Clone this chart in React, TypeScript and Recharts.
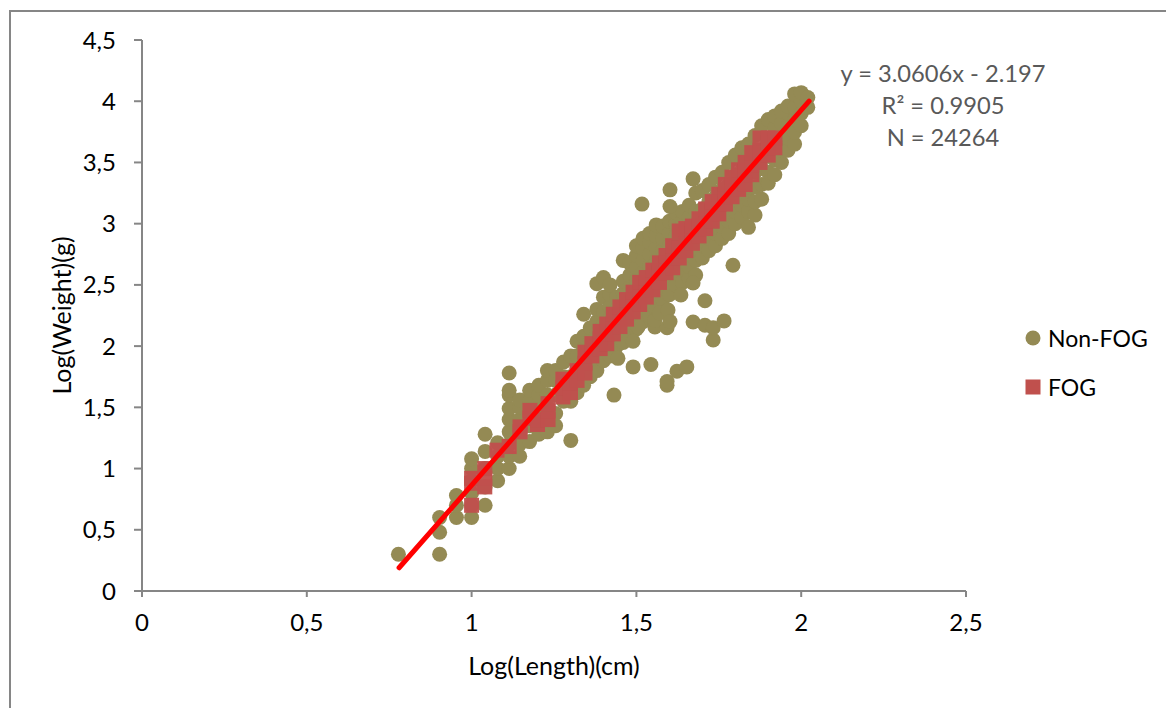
import React from "react";
import { ScatterChart, Scatter, XAxis, YAxis, Legend } from "recharts";

type Row = [number, number[]];

const xTicks = [0, 0.5, 1, 1.5, 2, 2.5];
const yTicks = [0, 0.5, 1, 1.5, 2, 2.5, 3, 3.5, 4, 4.5];
const annotation = ["y = 3.0606x - 2.197", "R² = 0.9905", "N = 24264"];

const nonFogLowRows: Row[] = [
  [0.778, [0.3]],
  [0.903, [0.3, 0.48, 0.6]],
  [0.954, [0.6, 0.7, 0.78]],
  [1.0, [0.6, 0.7, 0.8, 0.9, 1.0, 1.08]],
  [1.041, [0.7, 0.85, 1.0, 1.14, 1.28]],
  [1.079, [0.9, 1.0, 1.1, 1.21]],
  [1.114, [1.0, 1.1, 1.2, 1.3, 1.4, 1.49, 1.6, 1.64, 1.78]],
  [1.146, [1.1, 1.2, 1.3, 1.4, 1.5, 1.56]],
  [1.176, [1.22, 1.35, 1.45, 1.55, 1.64]],
  [1.204, [1.28, 1.38, 1.5, 1.6, 1.68]],
  [1.23, [1.3, 1.4, 1.5, 1.6, 1.72, 1.8]],
  [1.255, [1.35, 1.45, 1.6, 1.72, 1.8]],
  [1.279, [1.55, 1.65, 1.75, 1.87]],
  [1.301, [1.23, 1.55, 1.65, 1.75, 1.92]],
];

const nonFogBandRows: Row[] = [
  [1.32, [1.62, 1.72, 1.82, 1.92, 2.04]],
  [1.34, [1.68, 1.78, 1.88, 1.98, 2.08, 2.26]],
  [1.36, [1.75, 1.85, 1.95, 2.05, 2.15]],
  [1.38, [1.8, 1.9, 2.0, 2.1, 2.2, 2.3, 2.51]],
  [1.4, [1.88, 1.98, 2.08, 2.18, 2.28, 2.4, 2.56]],
  [1.42, [1.92, 2.02, 2.12, 2.22, 2.32, 2.42, 2.5]],
  [1.44, [2.0, 2.1, 2.2, 2.3, 2.4]],
  [1.46, [2.03, 2.13, 2.23, 2.33, 2.43, 2.53, 2.7]],
  [1.48, [2.08, 2.18, 2.28, 2.38, 2.48, 2.58, 2.68]],
  [1.5, [2.14, 2.24, 2.34, 2.44, 2.54, 2.64, 2.74, 2.82]],
  [1.52, [2.2, 2.3, 2.4, 2.5, 2.6, 2.7, 2.8, 2.88]],
  [1.54, [2.25, 2.35, 2.45, 2.55, 2.65, 2.75, 2.85, 2.92]],
  [1.56, [2.3, 2.4, 2.5, 2.6, 2.7, 2.8, 2.9, 2.99]],
  [1.58, [2.38, 2.48, 2.58, 2.68, 2.78, 2.88, 2.98]],
  [1.6, [2.42, 2.52, 2.62, 2.72, 2.82, 2.92, 3.02]],
  [1.62, [2.5, 2.6, 2.7, 2.8, 2.9, 3.0, 3.09]],
  [1.64, [2.52, 2.62, 2.72, 2.82, 2.92, 3.02, 3.1]],
  [1.66, [2.55, 2.65, 2.75, 2.85, 2.95, 3.05, 3.15]],
  [1.68, [2.58, 2.7, 2.8, 2.9, 3.0, 3.1, 3.25]],
  [1.7, [2.72, 2.82, 2.92, 3.02, 3.12, 3.27]],
  [1.72, [2.78, 2.88, 2.98, 3.08, 3.18, 3.32]],
  [1.74, [2.82, 2.92, 3.02, 3.12, 3.22, 3.38]],
  [1.76, [2.88, 2.98, 3.08, 3.18, 3.28, 3.42]],
  [1.78, [2.92, 3.02, 3.12, 3.22, 3.32, 3.5]],
  [1.8, [3.0, 3.1, 3.2, 3.3, 3.4, 3.56]],
  [1.82, [3.05, 3.15, 3.25, 3.35, 3.5, 3.62]],
  [1.84, [2.97, 3.1, 3.2, 3.3, 3.42, 3.55, 3.65]],
  [1.86, [3.07, 3.18, 3.3, 3.42, 3.55, 3.72]],
  [1.88, [3.2, 3.32, 3.45, 3.6, 3.8]],
  [1.9, [3.33, 3.42, 3.55, 3.7, 3.85]],
  [1.92, [3.4, 3.52, 3.65, 3.78, 3.88]],
  [1.94, [3.5, 3.6, 3.72, 3.82, 3.92]],
  [1.96, [3.6, 3.7, 3.8, 3.9, 3.96]],
  [1.98, [3.65, 3.75, 3.85, 3.95, 4.06]],
  [2.0, [3.8, 3.9, 4.0, 4.07]],
  [2.02, [3.95, 4.03]],
];

const nonFogOutlierRows: Row[] = [
  [1.432, [1.6]],
  [1.444, [1.9]],
  [1.49, [1.83, 2.04]],
  [1.505, [2.157]],
  [1.517, [3.16]],
  [1.544, [1.85]],
  [1.556, [2.157, 2.21]],
  [1.57, [2.27]],
  [1.593, [1.68, 1.71, 2.15]],
  [1.596, [2.295]],
  [1.602, [2.2, 3.14, 3.276]],
  [1.623, [1.795]],
  [1.635, [2.418]],
  [1.653, [1.83]],
  [1.672, [2.197, 2.516, 3.366]],
  [1.708, [2.17, 2.37]],
  [1.733, [2.05, 2.15]],
  [1.766, [2.206]],
  [1.793, [2.66]],
];

const fogRows: Row[] = [
  [1.0, [0.7, 0.88, 0.92]],
  [1.04, [0.85, 0.92, 1.0]],
  [1.077, [1.15]],
  [1.114, [1.18]],
  [1.147, [1.3, 1.34]],
  [1.177, [1.41, 1.475]],
  [1.2, [1.36, 1.4]],
  [1.232, [1.4, 1.47, 1.53]],
  [1.277, [1.585, 1.66, 1.73]],
  [1.3, [1.62, 1.7]],
  [1.32, [1.72, 1.8]],
  [1.344, [1.78, 1.86, 1.95]],
  [1.365, [1.92, 2.02]],
  [1.39, [1.98, 2.06, 2.12]],
  [1.41, [2.02, 2.1, 2.18]],
  [1.43, [2.1, 2.18, 2.26]],
  [1.45, [2.16, 2.24, 2.32]],
  [1.47, [2.22, 2.3, 2.38]],
  [1.49, [2.28, 2.36, 2.44]],
  [1.51, [2.34, 2.42, 2.52]],
  [1.53, [2.4, 2.48, 2.56]],
  [1.55, [2.46, 2.54, 2.62]],
  [1.57, [2.52, 2.6, 2.68]],
  [1.59, [2.6, 2.68, 2.74]],
  [1.61, [2.64, 2.72, 2.82]],
  [1.63, [2.72, 2.8, 2.94]],
  [1.65, [2.78, 2.86, 2.96]],
  [1.67, [2.84, 2.92, 2.98]],
  [1.69, [2.9, 2.98, 3.04]],
  [1.71, [2.96, 3.04, 3.12]],
  [1.73, [3.02, 3.1, 3.18]],
  [1.75, [3.08, 3.16, 3.24]],
  [1.77, [3.16, 3.24, 3.32]],
  [1.79, [3.22, 3.3, 3.38]],
  [1.81, [3.28, 3.36, 3.44]],
  [1.83, [3.32, 3.42, 3.5]],
  [1.85, [3.4, 3.48, 3.58]],
  [1.875, [3.5, 3.6, 3.7]],
  [1.9, [3.56, 3.66, 3.7]],
  [1.92, [3.62, 3.7]],
];

const trendLength = [0.78, 2.024];
const trendWeight = [0.19, 4.0];

const expand = (rows: Row[]) =>
  rows.flatMap(([x, ys]) => ys.map((y) => ({ x, y })));

const nonFog = [
  ...expand(nonFogLowRows),
  ...expand(nonFogBandRows),
  ...expand(nonFogOutlierRows),
];
const fog = expand(fogRows);
const trend = trendLength.map((x, i) => ({ x, y: trendWeight[i] }));

const FONT = "Lato, 'Open Sans', sans-serif";
const OLIVE = "#948A54";
const BRICK = "#C0504D";
const AXIS = "#868686";
const comma = (v: number) => String(v).replace(".", ",");

const Dot = (p: any) => <circle cx={p.cx} cy={p.cy} r={7.5} fill={OLIVE} />;
const Square = (p: any) => (
  <rect x={p.cx - 7.5} y={p.cy - 7.5} width={15} height={15} fill={BRICK} fillOpacity={0.96} />
);
const NoMark = () => <g />;

const LegendBox = () => (
  <div style={{ fontFamily: FONT, fontSize: 23, lineHeight: "28px", color: "#000" }}>
    <div style={{ position: "absolute", left: 0, top: 0, height: 30, width: 140 }}>
      <svg width={16} height={16} style={{ position: "absolute", left: 1, top: 9 }}>
        <circle cx={8} cy={8} r={7.5} fill={OLIVE} />
      </svg>
      <span style={{ position: "absolute", left: 24, top: 3 }}>Non-FOG</span>
    </div>
    <div style={{ position: "absolute", left: 0, top: 49, height: 30, width: 140 }}>
      <svg width={16} height={16} style={{ position: "absolute", left: 1, top: 9 }}>
        <rect x={0.5} y={0.5} width={15} height={15} fill={BRICK} />
      </svg>
      <span style={{ position: "absolute", left: 24, top: 3 }}>FOG</span>
    </div>
  </div>
);

export default function App() {
  return (
    <div style={{ position: "absolute", left: 0, top: 0, width: 1166, height: 708, overflow: "hidden", background: "#fff" }}>
      <div style={{ position: "absolute", left: 9, top: 10, width: 1300, height: 900, border: `2px solid ${AXIS}`, boxSizing: "border-box" }} />
      <ScatterChart
        width={1166}
        height={708}
        margin={{ top: 40, right: 60, bottom: 57, left: 82 }}
        style={{ position: "absolute", left: 0, top: 0 }}
      >
        <XAxis
          type="number"
          dataKey="x"
          domain={[0, 2.5]}
          ticks={xTicks}
          interval={0}
          height={60}
          tickSize={6}
          tickMargin={17}
          tickFormatter={comma}
          tick={{ fill: "#000", fontFamily: FONT, fontSize: 24 }}
          axisLine={{ stroke: AXIS, strokeWidth: 2 }}
          tickLine={{ stroke: AXIS, strokeWidth: 2 }}
          label={{ value: "Log(Length)(cm)", position: "insideBottom", offset: -24, fill: "#000", fontFamily: FONT, fontSize: 25 }}
        />
        <YAxis
          type="number"
          dataKey="y"
          domain={[0, 4.5]}
          ticks={yTicks}
          interval={0}
          width={60}
          tickSize={8}
          tickMargin={18}
          tickFormatter={comma}
          tick={{ fill: "#000", fontFamily: FONT, fontSize: 24 }}
          axisLine={{ stroke: AXIS, strokeWidth: 2 }}
          tickLine={{ stroke: AXIS, strokeWidth: 2 }}
          label={{ value: "Log(Weight)(g)", angle: -90, position: "insideLeft", offset: -20, style: { textAnchor: "middle" }, fill: "#000", fontFamily: FONT, fontSize: 25 }}
        />
        <Legend
          layout="vertical"
          align="right"
          verticalAlign="middle"
          content={<LegendBox />}
          wrapperStyle={{ position: "absolute", left: 1024, top: 321, width: 140, height: 80, right: "auto", bottom: "auto" }}
        />
        <Scatter name="Non-FOG" data={nonFog} shape={Dot} isAnimationActive={false} />
        <Scatter name="FOG" data={fog} shape={Square} isAnimationActive={false} />
        <Scatter
          name="Trend"
          data={trend}
          shape={NoMark}
          line={{ stroke: "#FF0000", strokeWidth: 5, strokeLinecap: "round" }}
          legendType="none"
          isAnimationActive={false}
        />
      </ScatterChart>
      <div style={{ position: "absolute", left: 793, top: 57, width: 300, textAlign: "center", fontFamily: FONT, fontSize: 23.7, lineHeight: "32px", color: "#595959" }}>
        {annotation.map((t) => (
          <div key={t}>{t}</div>
        ))}
      </div>
    </div>
  );
}
